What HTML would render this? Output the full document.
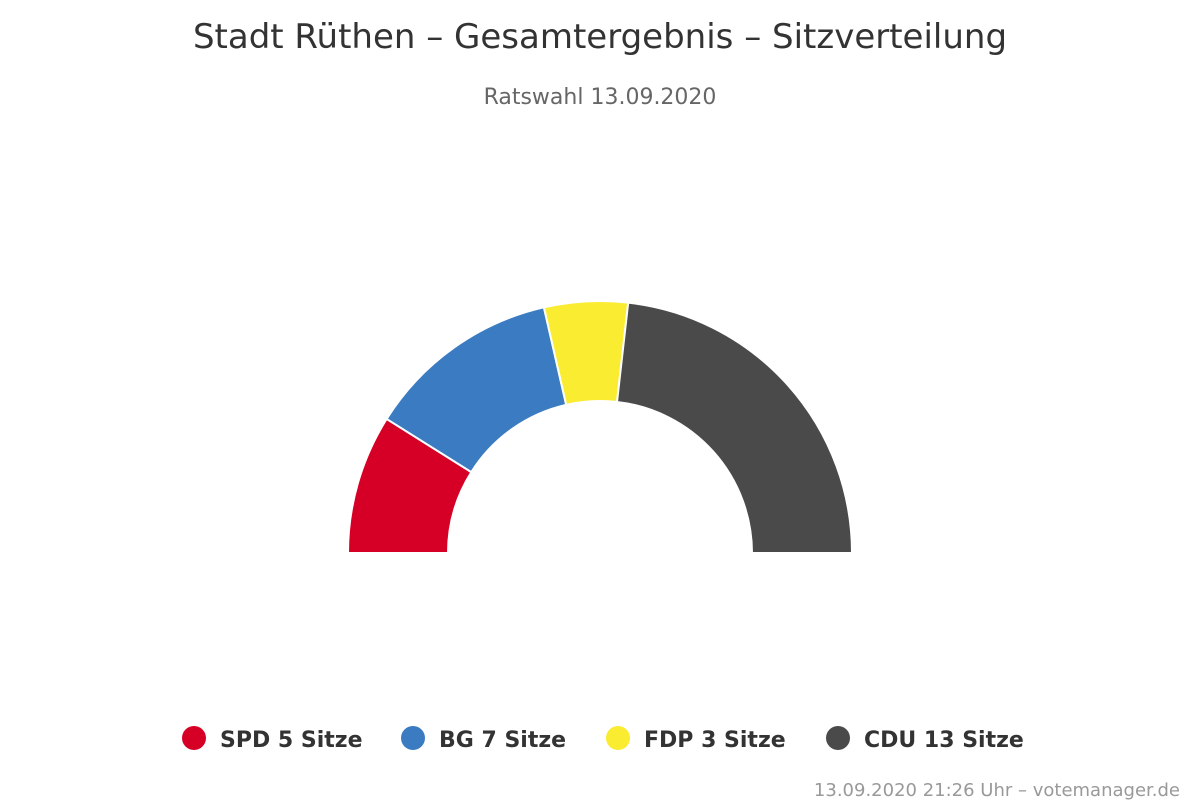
<!DOCTYPE html>
<html><head><meta charset="utf-8">
<style>
body{margin:0;background:#fff;font-family:"DejaVu Sans","Liberation Sans",sans-serif;}
#wrap{position:relative;width:1200px;height:800px;overflow:hidden;}
</style></head>
<body>
<div id="wrap">
<svg id="chart" width="1200" height="800">
<text x="600" y="48" text-anchor="middle" font-size="34" fill="#333">Stadt Rüthen – Gesamtergebnis – Sitzverteilung</text>
<text x="600" y="104" text-anchor="middle" font-size="22" fill="#666">Ratswahl 13.09.2020</text>
<g id="slices"></g>
<g id="legend"></g>
<text x="1180" y="796" text-anchor="end" font-size="18" fill="#999">13.09.2020 21:26 Uhr – votemanager.de</text>
</svg>
</div>
<script>
const parties=["SPD","BG","FDP","CDU"];
const seats=[5,7,3,13];
const colors=["#d60027","#3a7bc2","#f9ec31","#4a4a4a"];
const NS="http://www.w3.org/2000/svg";
const cx=600,cy=553,R=252,r=152;
const total=seats.reduce((a,b)=>a+b,0);
const g=document.getElementById("slices");
let acc=0;
function pt(rad,a){return [cx-rad*Math.cos(a),cy-rad*Math.sin(a)];}
seats.forEach((s,i)=>{
  const a0=Math.PI*acc/total, a1=Math.PI*(acc+s)/total; acc+=s;
  const [x0,y0]=pt(R,a0),[x1,y1]=pt(R,a1),[x2,y2]=pt(r,a1),[x3,y3]=pt(r,a0);
  const p=document.createElementNS(NS,"path");
  p.setAttribute("d",`M${x0},${y0} A${R},${R} 0 0 1 ${x1},${y1} L${x2},${y2} A${r},${r} 0 0 0 ${x3},${y3} Z`);
  p.setAttribute("fill",colors[i]);p.setAttribute("stroke","#fff");p.setAttribute("stroke-width","2");
  
  
  g.appendChild(p);
});
const lg=document.getElementById("legend");
const lx=[194,413,618,838];
parties.forEach((name,i)=>{
  const e=document.createElementNS(NS,"g");
  
  
  const c=document.createElementNS(NS,"circle");
  c.setAttribute("cx",lx[i]);c.setAttribute("cy",738);c.setAttribute("r",12);c.setAttribute("fill",colors[i]);
  const t=document.createElementNS(NS,"text");
  t.setAttribute("x",lx[i]+26);t.setAttribute("y",747);t.setAttribute("font-size","22");t.setAttribute("font-weight","bold");t.setAttribute("fill","#333");
  t.textContent=name+" "+seats[i]+" Sitze";
  e.appendChild(c);e.appendChild(t);lg.appendChild(e);
});
</script>
</body></html>
